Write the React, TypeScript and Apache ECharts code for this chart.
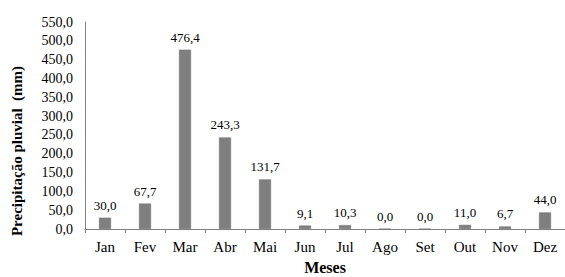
import React, { useEffect, useRef } from "react";
import * as echarts from "echarts";

const months = ["Jan", "Fev", "Mar", "Abr", "Mai", "Jun", "Jul", "Ago", "Set", "Out", "Nov", "Dez"];
const rainfall = [30.0, 67.7, 476.4, 243.3, 131.7, 9.1, 10.3, 0.0, 0.0, 11.0, 6.7, 44.0];
const yMin = 0;
const yMax = 550;
const yStep = 50;
const yTitle = "Precipitação pluvial  (mm)";
const xTitle = "Meses";

const fmt = (v: number) => v.toFixed(1).replace(".", ",");

export default function App() {
  const ref = useRef<HTMLDivElement>(null);
  useEffect(() => {
    document.body.style.margin = "0";
    const chart = echarts.init(ref.current!, null, { renderer: "svg" });
    const font = "'Liberation Serif', 'Times New Roman', serif";
    chart.setOption({
      animation: false,
      backgroundColor: "#ffffff",
      grid: { left: 85, right: 0, top: 22, bottom: 48, outerBoundsMode: "none", containLabel: false },
      graphic: [
        {
          type: "text",
          x: 17,
          y: 151,
          rotation: Math.PI / 2,
          style: {
            text: yTitle,
            fontFamily: font,
            fontWeight: "bold",
            fontSize: 15,
            fill: "#000",
            align: "center",
            verticalAlign: "middle",
          },
        },
      ],
      xAxis: {
        type: "category",
        data: months,
        name: xTitle,
        nameLocation: "middle",
        nameGap: 30,
        nameTextStyle: { fontFamily: font, fontWeight: "bold", fontSize: 16, color: "#000" },
        axisLine: { lineStyle: { color: "#808080", width: 1 } },
        axisTick: { show: true, length: 4, inside: false, lineStyle: { color: "#808080" } },
        axisLabel: { fontFamily: font, fontSize: 15, color: "#000", margin: 10 },
      },
      yAxis: {
        type: "value",
        min: yMin,
        max: yMax,
        interval: yStep,
        axisLine: { show: true, lineStyle: { color: "#808080", width: 1 } },
        axisTick: { show: false },
        splitLine: { show: false },
        axisLabel: {
          fontFamily: font,
          fontSize: 14,
          color: "#000",
          margin: 12,
          formatter: (v: number) => fmt(v),
        },
      },
      series: [
        {
          type: "bar",
          data: rainfall,
          barWidth: 12,
          itemStyle: { color: "#7f7f7f", borderColor: "#6f6f6f", borderWidth: 0.5 },
          label: {
            show: true,
            position: "top",
            distance: 6,
            fontFamily: font,
            fontSize: 13,
            color: "#000",
            formatter: (p: any) => fmt(p.value),
          },
        },
      ],
    });
    return () => chart.dispose();
  }, []);
  return <div ref={ref} style={{ width: 565, height: 277 }} />;
}
